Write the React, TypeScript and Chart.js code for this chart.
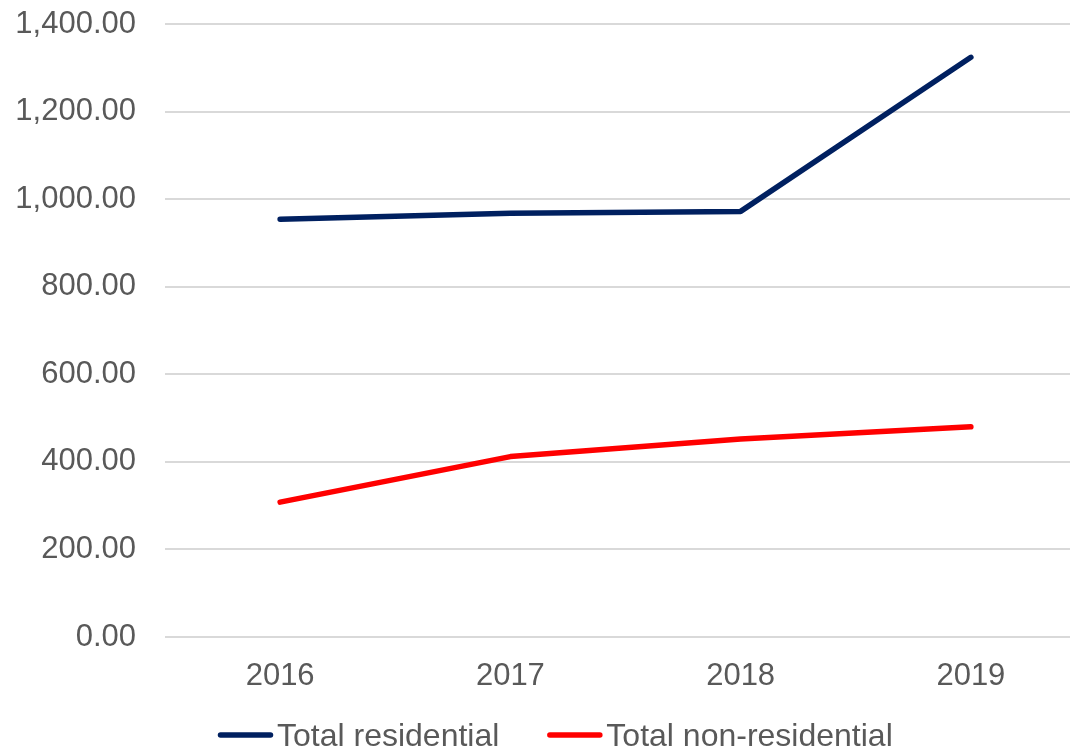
import { useEffect, useRef } from "react";
import { Chart, registerables } from "chart.js";

Chart.register(...registerables);

const categories = ["2016", "2017", "2018", "2019"];
const residential = [954, 968, 972, 1324];
const nonResidential = [308, 412, 452, 480];
const seriesLabels = ["Total residential", "Total non-residential"];
const seriesColors = ["#002060", "#FF0000"];
const yMin = 0;
const yMax = 1400;
const yStep = 200;

const FONT = '"Liberation Sans", Arial, sans-serif';
const TEXT = "#595959";

const legendPlugin = {
  id: "customLegend",
  afterDraw(chart: any) {
    const ctx = chart.ctx;
    ctx.save();
    ctx.font = `32px ${FONT}`;
    let x = 218;
    const lineY = 735;
    chart.data.datasets.forEach((ds: any) => {
      ctx.strokeStyle = ds.borderColor;
      ctx.lineWidth = 5.5;
      ctx.lineCap = "round";
      ctx.beginPath();
      ctx.moveTo(x + 2.5, lineY);
      ctx.lineTo(x + 52.5, lineY);
      ctx.stroke();
      ctx.fillStyle = TEXT;
      ctx.textBaseline = "alphabetic";
      ctx.textAlign = "left";
      ctx.fillText(ds.label, x + 59, 746);
      x += 59 + ctx.measureText(ds.label).width + 48;
    });
    ctx.restore();
  },
};

export default function App() {
  const ref = useRef<HTMLCanvasElement | null>(null);
  useEffect(() => {
    if (!ref.current) return;
    const chart = new Chart(ref.current, {
      type: "line",
      data: {
        labels: categories,
        datasets: [
          {
            label: seriesLabels[0],
            data: residential,
            borderColor: seriesColors[0],
            backgroundColor: seriesColors[0],
            borderWidth: 5.5,
            pointRadius: 0,
            borderCapStyle: "round",
            borderJoinStyle: "round",
            tension: 0,
            fill: false,
          },
          {
            label: seriesLabels[1],
            data: nonResidential,
            borderColor: seriesColors[1],
            backgroundColor: seriesColors[1],
            borderWidth: 5.5,
            pointRadius: 0,
            borderCapStyle: "round",
            borderJoinStyle: "round",
            tension: 0,
            fill: false,
          },
        ],
      },
      options: {
        responsive: false,
        animation: false,
        layout: { padding: { top: 24, left: 0, right: 0, bottom: 0 } },
        plugins: {
          legend: { display: false },
          tooltip: { enabled: false },
        },
        scales: {
          y: {
            min: yMin,
            max: yMax,
            ticks: {
              stepSize: yStep,
              padding: 29,
              color: TEXT,
              font: { family: FONT, size: 31 },
              callback: (v: any) =>
                Number(v).toLocaleString("en-US", {
                  minimumFractionDigits: 2,
                  maximumFractionDigits: 2,
                }),
            },
            grid: { color: "#d9d9d9", lineWidth: 2, drawTicks: false },
            border: { display: false },
            afterFit: (s: any) => {
              s.width = 165;
              s.paddingTop = 0;
              s.paddingBottom = 0;
            },
          },
          x: {
            offset: true,
            ticks: {
              padding: 13,
              color: TEXT,
              font: { family: FONT, size: 31 },
            },
            grid: { display: false },
            border: { display: false },
            afterFit: (s: any) => {
              s.height = 112;
            },
          },
        },
      },
      plugins: [legendPlugin],
    } as any);
    return () => chart.destroy();
  }, []);
  return (
    <div
      style={{
        position: "absolute",
        left: 0,
        top: 0,
        width: 1070,
        height: 749,
        overflow: "hidden",
        background: "#fff",
      }}
    >
      <canvas ref={ref} width={1086} height={749} style={{ display: "block" }} />
    </div>
  );
}
